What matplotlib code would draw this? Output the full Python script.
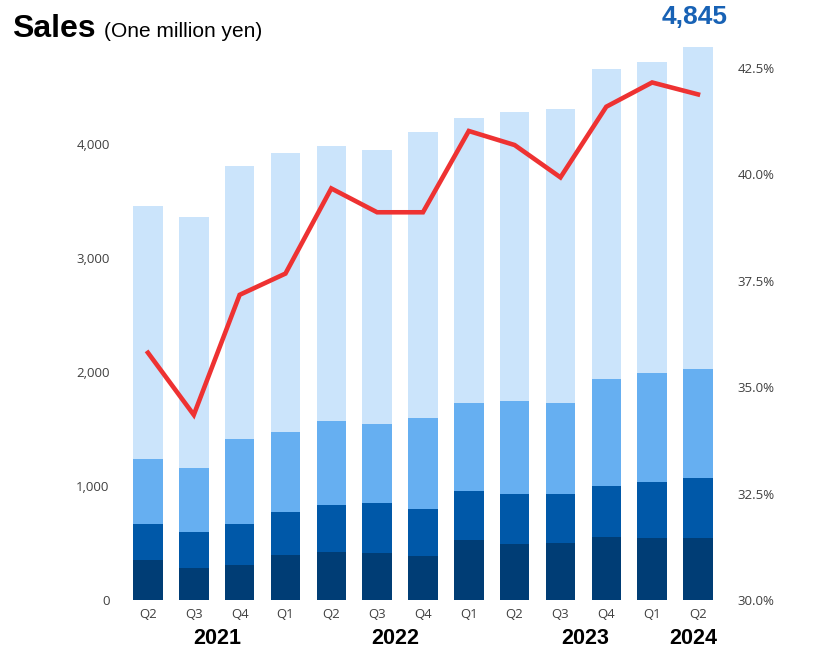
import numpy as np
import matplotlib.pyplot as plt
from matplotlib.transforms import blended_transform_factory

# Quarterly sales (million yen), stacked by segment, plus margin line (%)
quarters = ["Q2", "Q3", "Q4", "Q1", "Q2", "Q3", "Q4", "Q1", "Q2", "Q3", "Q4", "Q1", "Q2"]
years = ["2021", "2022", "2023", "2024"]
year_pos = [1.52, 5.4, 9.53, 11.9]

seg1 = [348, 282, 308, 398, 425, 416, 384, 527, 492, 503, 556, 547, 547]
seg2 = [321, 312, 361, 374, 405, 435, 417, 425, 434, 423, 444, 490, 522]
seg3 = [569, 560, 739, 703, 741, 691, 796, 777, 814, 797, 939, 952, 955]
seg4 = [2218, 2205, 2395, 2442, 2404, 2404, 2501, 2492, 2538, 2582, 2713, 2724, 2821]
ratio = [35.81, 34.35, 37.17, 37.67, 39.67, 39.11, 39.11, 41.02, 40.69, 39.93, 41.59, 42.16, 41.88]

colors = ["#003D75", "#0058A8", "#66AFF1", "#CBE4FB"]
tick_color = "#404040"

fig = plt.figure(figsize=(8.33, 6.53), dpi=100)
W, H = 833, 653
ax = fig.add_axes([120 / W, 1 - 600 / H, 605 / W, 560 / H])

x = np.arange(len(quarters))
bottom = np.zeros(len(quarters))
for seg, c in zip([seg1, seg2, seg3, seg4], colors):
    ax.bar(x, seg, width=0.645, bottom=bottom, color=c, linewidth=0)
    bottom += np.array(seg)

ax.set_xlim(-0.61, 12.59)
ax.set_ylim(0, 560 / 0.1141)
ax.set_yticks([0, 1000, 2000, 3000, 4000])
ax.set_yticklabels(["0", "1,000", "2,000", "3,000", "4,000"])
ax.set_xticks(x)
ax.set_xticklabels(quarters)
ax.tick_params(length=0, labelsize=9.5, colors=tick_color)
ax.tick_params(axis="y", pad=7.5)
ax.tick_params(axis="x", pad=5.5)
for lab in ax.get_xticklabels() + ax.get_yticklabels():
    lab.set_fontfamily("Open Sans")
for s in ax.spines.values():
    s.set_visible(False)

ax2 = ax.twinx()
ax2.plot(x, ratio, color="#EE3232", linewidth=3.3, solid_joinstyle="miter")
ax2.set_ylim(30, 30 + 560 * 2.5 / 106.4)
ax2.set_yticks([30, 32.5, 35, 37.5, 40, 42.5])
ax2.set_yticklabels(["30.0%", "32.5%", "35.0%", "37.5%", "40.0%", "42.5%"])
ax2.tick_params(length=0, labelsize=9.5, colors=tick_color, pad=9)
for lab in ax2.get_yticklabels():
    lab.set_fontfamily("Open Sans")
for s in ax2.spines.values():
    s.set_visible(False)

# year labels under the quarter ticks
trans = blended_transform_factory(ax.transData, ax.transAxes)
for yr, p in zip(years, year_pos):
    ax.text(p, -39 / 560, yr, transform=trans, ha="center", va="center",
            fontsize=15.5, fontweight="bold", color="black",
            family=["Liberation Sans Narrow", "Liberation Sans"])

# latest total above the last bar
total = int(bottom[-1])
tr2 = blended_transform_factory(ax.transData, fig.transFigure)
ax.text(x[-1] - 0.08, 1 - 17 / H, f"{total:,}", transform=tr2, ha="center", va="center",
        fontsize=19, fontweight="bold", color="#1862B5", family="Liberation Sans")

fig.text(12 / W, 1 - 37 / H, "Sales", fontsize=23, fontweight="bold",
         family="Liberation Sans", va="baseline")
fig.text(104 / W, 1 - 37 / H, "(One million yen)", fontsize=15,
         family="Liberation Sans", va="baseline")

fig.savefig("out.png", dpi=100)
